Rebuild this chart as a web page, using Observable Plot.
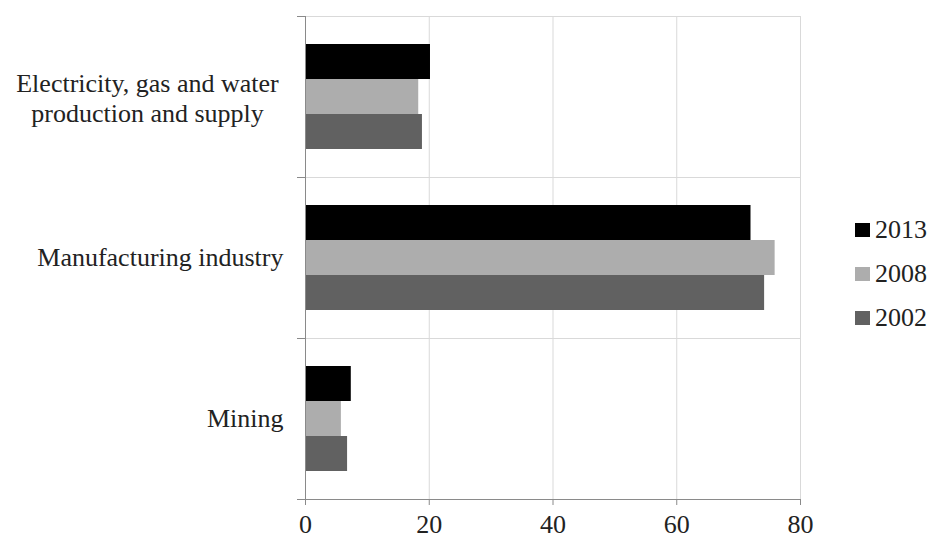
<!DOCTYPE html>
<html>
<head>
<meta charset="utf-8">
<script src="https://cdn.jsdelivr.net/npm/d3@7"></script>
<script src="https://cdn.jsdelivr.net/npm/@observablehq/plot@0.6"></script>
<style>
  html, body { margin: 0; padding: 0; background: #fff; }
  #wrap { position: relative; width: 929px; height: 541px; overflow: hidden; }
  #legend { position: absolute; left: 855px; top: 208px; font-family: "Liberation Serif", serif; font-size: 26px; color: #222; }
  .item { display: flex; align-items: center; height: 44px; }
  .sw { width: 15px; height: 14px; margin-right: 5px; }
</style>
</head>
<body>
<div id="wrap"><div id="legend"></div></div>
<script>
const categories = ["Electricity, gas and water production and supply", "Manufacturing industry", "Mining"];
const categoryLabels = ["Electricity, gas and water\nproduction and supply", "Manufacturing industry", "Mining"];
const years = ["2013", "2008", "2002"];
const values2013 = [20.2, 72.0, 7.4];
const values2008 = [18.3, 75.9, 5.8];
const values2002 = [18.9, 74.2, 6.8];
const xTicks = [0, 20, 40, 60, 80];
const colors = ["#000000", "#adadad", "#616161"];

const series = [values2013, values2008, values2002];
const data = categories.flatMap((c, i) => years.map((y, j) => ({category: c, year: y, value: series[j][i]})));
const labelRows = categories.map((c, i) => ({category: c, label: categoryLabels[i]}));

const axisGray = "#8a8a8a";
const gridGray = "#d9d9d9";

const chart = Plot.plot({
  width: 929,
  height: 541,
  marginLeft: 305,
  marginRight: 129,
  marginTop: 15,
  marginBottom: 41,
  style: {fontFamily: "'Liberation Serif', serif", fontSize: "26px", background: "white", color: "#222"},
  x: {domain: [0, 80], label: null},
  y: {domain: years, paddingInner: 0, paddingOuter: 0.77, axis: null},
  fy: {domain: categories, padding: 0, axis: null},
  color: {domain: years, range: colors},
  marks: [
    Plot.gridX(xTicks, {stroke: gridGray, strokeOpacity: 1}),
    Plot.frame({anchor: "bottom", stroke: axisGray, insetLeft: -8}),
    Plot.frame({anchor: "top", stroke: gridGray}),
    Plot.frame({anchor: "top", stroke: axisGray, insetLeft: -8, insetRight: 495}),
    Plot.barX(data, {fy: "category", y: "year", x: "value", fill: "year"}),
    Plot.frame({anchor: "left", stroke: axisGray}),
    Plot.axisX(xTicks, {label: null, tickSize: 6, tickPadding: 9, stroke: axisGray, fill: "#222", fontSize: 26}),
    Plot.text(labelRows.slice(1), {fy: "category", text: "label", frameAnchor: "left", textAnchor: "end", dx: -22, fill: "#222", fontSize: 26}),
    Plot.text(labelRows.slice(0, 1), {fy: "category", text: "label", frameAnchor: "left", textAnchor: "middle", dx: -158, lineHeight: 1.15, fill: "#222", fontSize: 26})
  ]
});
document.getElementById("wrap").prepend(chart);

const colorScale = chart.scale("color");
const legend = document.getElementById("legend");
years.forEach((y, i) => {
  const item = document.createElement("div");
  item.className = "item";
  const sw = document.createElement("div");
  sw.className = "sw";
  sw.style.background = colorScale.range[i];
  const t = document.createElement("span");
  t.textContent = y;
  item.append(sw, t);
  legend.append(item);
});
</script>
</body>
</html>
